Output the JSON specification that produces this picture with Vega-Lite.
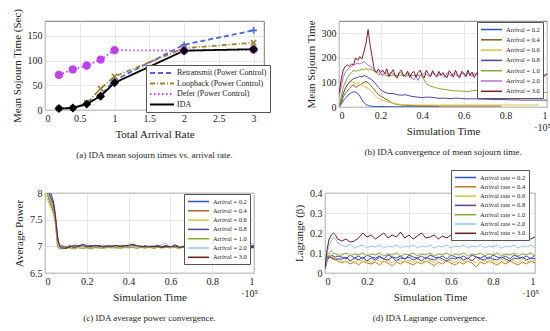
{
"$schema":"https://vega.github.io/schema/vega-lite/v6.json",
"padding":{"left":10,"top":8,"right":2,"bottom":0},
"background":"white",
"config":{"font":"Liberation Serif","view":{"stroke":"#555","strokeWidth":0.8},
 "axis":{"grid":true,"gridColor":"#dddddd","gridWidth":0.7,"domain":false,"ticks":false,"labelFontSize":10,"titleFontSize":11,"titleFontWeight":"normal","labelColor":"#222","titleColor":"#222","labelPadding":3,"titlePadding":5},
 "title":{"orient":"bottom","fontSize":9,"fontWeight":"normal","anchor":"middle","color":"#222","offset":12},
 "legend":{"labelColor":"#222"}},
"resolve":{"scale":{"color":"independent","strokeDash":"independent","shape":"independent","stroke":"independent","fill":"independent","x":"independent","y":"independent"},"legend":{"color":"independent","strokeDash":"independent"}},
"datasets":{
"a":[
{"x":0.2,"m":"Retransmit (Power Control)","n":"R","y":3},{"x":0.4,"m":"Retransmit (Power Control)","n":"R","y":4},{"x":0.6,"m":"Retransmit (Power Control)","n":"R","y":12},{"x":0.8,"m":"Retransmit (Power Control)","n":"R","y":30},{"x":1,"m":"Retransmit (Power Control)","n":"R","y":60},{"x":2,"m":"Retransmit (Power Control)","n":"R","y":132},{"x":3,"m":"Retransmit (Power Control)","n":"R","y":161},
{"x":0.2,"m":"Loopback (Power Control)","n":"L","y":3},{"x":0.4,"m":"Loopback (Power Control)","n":"L","y":4},{"x":0.6,"m":"Loopback (Power Control)","n":"L","y":14},{"x":0.8,"m":"Loopback (Power Control)","n":"L","y":43},{"x":1,"m":"Loopback (Power Control)","n":"L","y":68},{"x":2,"m":"Loopback (Power Control)","n":"L","y":125},{"x":3,"m":"Loopback (Power Control)","n":"L","y":136},
{"x":0.2,"m":"Defer (Power Control)","n":"D","y":71},{"x":0.4,"m":"Defer (Power Control)","n":"D","y":82},{"x":0.6,"m":"Defer (Power Control)","n":"D","y":90},{"x":0.8,"m":"Defer (Power Control)","n":"D","y":102},{"x":1,"m":"Defer (Power Control)","n":"D","y":121},{"x":2,"m":"Defer (Power Control)","n":"D","y":120},{"x":3,"m":"Defer (Power Control)","n":"D","y":122},
{"x":0.2,"m":"IDA","n":"I","y":3},{"x":0.4,"m":"IDA","n":"I","y":4},{"x":0.6,"m":"IDA","n":"I","y":12},{"x":0.8,"m":"IDA","n":"I","y":28},{"x":1,"m":"IDA","n":"I","y":55},{"x":2,"m":"IDA","n":"I","y":120},{"x":3,"m":"IDA","n":"I","y":123}
],
"b":[
{"t":0,"a02":0,"a04":0,"a06":0,"a08":0,"a10":0,"a20":40,"a30":55},
{"t":0.01,"a02":10,"a04":15,"a06":20,"a08":25,"a10":40,"a20":80,"a30":110},
{"t":0.02,"a02":25,"a04":40,"a06":50,"a08":55,"a10":80,"a20":120,"a30":150},
{"t":0.03,"a02":35,"a04":55,"a06":75,"a08":75,"a10":100,"a20":140,"a30":165},
{"t":0.04,"a02":45,"a04":65,"a06":90,"a08":90,"a10":120,"a20":150,"a30":172},
{"t":0.05,"a02":52,"a04":75,"a06":100,"a08":100,"a10":130,"a20":160,"a30":165},
{"t":0.06,"a02":58,"a04":85,"a06":105,"a08":110,"a10":140,"a20":165,"a30":175},
{"t":0.07,"a02":62,"a04":90,"a06":100,"a08":115,"a10":150,"a20":170,"a30":172},
{"t":0.08,"a02":60,"a04":80,"a06":95,"a08":118,"a10":145,"a20":175,"a30":200},
{"t":0.09,"a02":55,"a04":85,"a06":98,"a08":120,"a10":150,"a20":178,"a30":190},
{"t":0.1,"a02":45,"a04":90,"a06":92,"a08":125,"a10":148,"a20":175,"a30":205},
{"t":0.11,"a02":30,"a04":95,"a06":88,"a08":122,"a10":155,"a20":180,"a30":195},
{"t":0.12,"a02":18,"a04":100,"a06":85,"a08":128,"a10":150,"a20":185,"a30":225},
{"t":0.13,"a02":10,"a04":105,"a06":80,"a08":125,"a10":158,"a20":178,"a30":260},
{"t":0.14,"a02":6,"a04":98,"a06":75,"a08":120,"a10":150,"a20":170,"a30":315},
{"t":0.15,"a02":4,"a04":90,"a06":70,"a08":115,"a10":155,"a20":165,"a30":250},
{"t":0.16,"a02":3,"a04":80,"a06":60,"a08":110,"a10":150,"a20":160,"a30":200},
{"t":0.17,"a02":2,"a04":70,"a06":50,"a08":100,"a10":145,"a20":150,"a30":150},
{"t":0.18,"a02":2,"a04":60,"a06":40,"a08":90,"a10":140,"a20":145,"a30":140},
{"t":0.19,"a02":2,"a04":50,"a06":35,"a08":80,"a10":130,"a20":140,"a30":155},
{"t":0.2,"a02":2,"a04":45,"a06":30,"a08":70,"a10":135,"a20":135,"a30":140},
{"t":0.21,"a20":128,"a30":150},
{"t":0.22,"a02":2,"a04":35,"a06":25,"a08":60,"a10":130,"a20":140,"a30":135},
{"t":0.23,"a20":135,"a30":155},
{"t":0.24,"a02":1,"a04":25,"a06":20,"a08":55,"a10":125,"a20":130,"a30":125},
{"t":0.25,"a20":142,"a30":138},
{"t":0.26,"a02":1,"a04":15,"a06":15,"a08":55,"a10":130,"a20":135,"a30":152},
{"t":0.27,"a20":125,"a30":128},
{"t":0.28,"a02":1,"a04":10,"a06":12,"a08":50,"a10":128,"a20":128,"a30":118},
{"t":0.29,"a20":138,"a30":142},
{"t":0.3,"a02":1,"a04":8,"a06":10,"a08":48,"a10":130,"a20":140,"a30":150},
{"t":0.31,"a20":130,"a30":125},
{"t":0.32,"a02":1,"a04":7,"a06":9,"a08":50,"a10":125,"a20":125,"a30":132},
{"t":0.33,"a20":140,"a30":146},
{"t":0.34,"a02":1,"a04":6,"a06":9,"a08":45,"a10":130,"a20":135,"a30":120},
{"t":0.35,"a20":118,"a30":138},
{"t":0.36,"a02":1,"a04":6,"a06":8,"a08":42,"a10":128,"a20":110,"a30":145},
{"t":0.37,"a20":125,"a30":122},
{"t":0.38,"a02":1,"a04":5,"a06":8,"a08":40,"a10":130,"a20":108,"a30":140},
{"t":0.39,"a20":130,"a30":150},
{"t":0.4,"a02":1,"a04":5,"a06":8,"a08":38,"a10":125,"a20":130,"a30":128},
{"t":0.41,"a20":138,"a30":118},
{"t":0.42,"a02":1,"a04":5,"a06":8,"a08":40,"a10":95,"a20":135,"a30":150},
{"t":0.43,"a20":125,"a30":135},
{"t":0.44,"a02":1,"a04":5,"a06":8,"a08":40,"a10":85,"a20":125,"a30":125},
{"t":0.45,"a20":140,"a30":148},
{"t":0.46,"a02":1,"a04":4,"a06":8,"a08":38,"a10":80,"a20":138,"a30":130},
{"t":0.47,"a20":128,"a30":122},
{"t":0.48,"a02":1,"a04":4,"a06":8,"a08":35,"a10":75,"a20":130,"a30":145},
{"t":0.49,"a20":135,"a30":128},
{"t":0.5,"a04":4,"a06":8,"a08":36,"a10":72,"a20":128,"a30":140},
{"t":0.51,"a20":120,"a30":125},
{"t":0.52,"a04":4,"a06":8,"a08":35,"a10":70,"a20":140,"a30":120},
{"t":0.53,"a20":132,"a30":148},
{"t":0.54,"a04":4,"a06":8,"a08":34,"a10":68,"a20":125,"a30":135},
{"t":0.55,"a20":138,"a30":122},
{"t":0.56,"a04":4,"a06":8,"a08":36,"a10":66,"a20":135,"a30":150},
{"t":0.57,"a20":125,"a30":130},
{"t":0.58,"a04":4,"a06":8,"a08":35,"a10":65,"a20":128,"a30":118},
{"t":0.59,"a20":140,"a30":145},
{"t":0.6,"a04":4,"a06":8,"a08":34,"a10":64,"a20":130,"a30":138},
{"t":0.61,"a20":122,"a30":125},
{"t":0.62,"a04":4,"a06":8,"a08":33,"a10":62,"a20":140,"a30":150},
{"t":0.63,"a20":130,"a30":128},
{"t":0.64,"a04":4,"a06":8,"a08":34,"a10":66,"a20":125,"a30":142},
{"t":0.65,"a20":138,"a30":120},
{"t":0.66,"a04":4,"a06":8,"a08":33,"a10":68,"a20":132,"a30":135},
{"t":0.67,"a20":125,"a30":148},
{"t":0.68,"a04":4,"a06":8,"a08":32,"a10":65,"a20":128,"a30":120},
{"t":0.69,"a20":140,"a30":132},
{"t":0.7,"a04":4,"a06":8,"a08":32,"a10":70,"a20":138,"a30":145},
{"t":0.71,"a20":122,"a30":125},
{"t":0.72,"a04":4,"a06":8,"a08":31,"a10":72,"a20":130,"a30":138},
{"t":0.73,"a20":136,"a30":150},
{"t":0.74,"a04":4,"a06":8,"a08":31,"a10":68,"a20":125,"a30":122},
{"t":0.75,"a20":140,"a30":135},
{"t":0.76,"a04":4,"a06":8,"a08":30,"a10":66,"a20":135,"a30":128},
{"t":0.77,"a20":124,"a30":146},
{"t":0.78,"a04":4,"a06":8,"a08":30,"a10":70,"a20":128,"a30":120},
{"t":0.79,"a20":138,"a30":138},
{"t":0.8,"a06":8,"a08":30,"a10":68,"a20":130,"a30":130},
{"t":0.81,"a20":122,"a30":118},
{"t":0.82,"a06":8,"a08":29,"a10":65,"a20":138,"a30":142},
{"t":0.83,"a20":128,"a30":126},
{"t":0.84,"a06":8,"a08":29,"a10":67,"a20":125,"a30":138},
{"t":0.85,"a20":140,"a30":150},
{"t":0.86,"a06":8,"a08":29,"a10":64,"a20":132,"a30":122},
{"t":0.87,"a20":126,"a30":135},
{"t":0.88,"a06":8,"a08":28,"a10":66,"a20":128,"a30":142},
{"t":0.89,"a20":136,"a30":120},
{"t":0.9,"a06":8,"a08":28,"a10":62,"a20":135,"a30":132},
{"t":0.91,"a20":124,"a30":145},
{"t":0.92,"a06":8,"a08":28,"a10":60,"a20":125,"a30":125},
{"t":0.93,"a20":138,"a30":138},
{"t":0.94,"a06":8,"a08":28,"a10":58,"a20":132,"a30":120},
{"t":0.95,"a20":126,"a30":146},
{"t":0.96,"a06":8,"a08":28,"a10":57,"a20":128,"a30":132},
{"t":0.97,"a20":140,"a30":125},
{"t":0.98,"a08":28,"a10":58,"a20":130,"a30":140},
{"t":0.99,"a20":124,"a30":128},
{"t":1,"a08":28,"a10":60,"a20":135,"a30":135}
],
"c":[
{"t":0,"a02":8.3,"a04":8.2,"a06":8.0,"a08":8.4,"a10":8.1,"a20":8.2,"a30":8.3},
{"t":0.02,"a02":7.95,"a04":7.85,"a06":7.8,"a08":8.1,"a10":7.9,"a20":7.95,"a30":8.0},
{"t":0.04,"a02":7.75,"a04":7.65,"a06":7.6,"a08":7.85,"a10":7.7,"a20":7.75,"a30":7.8},
{"t":0.05,"a02":7.5,"a04":7.45,"a06":7.4,"a08":7.6,"a10":7.45,"a20":7.5,"a30":7.55},
{"t":0.06,"a02":7.15,"a04":7.1,"a06":7.0,"a08":7.2,"a10":6.98,"a20":7.1,"a30":7.15},
{"t":0.07,"a02":6.98,"a04":7.0,"a06":6.95,"a08":7.0,"a10":6.95,"a20":6.97,"a30":7.0},
{"t":0.08,"a02":7.0,"a04":6.98,"a06":6.96,"a08":7.02,"a10":6.95,"a20":7.0,"a30":6.97},
{"t":0.1,"a02":6.96,"a04":7.0,"a06":6.98,"a08":6.97,"a10":7.0,"a20":6.95,"a30":6.96},
{"t":0.12,"a02":7.01,"a04":6.98,"a06":6.96,"a08":7.02,"a10":6.97,"a20":7.0,"a30":6.99},
{"t":0.14,"a02":6.98,"a04":7.02,"a06":6.99,"a08":6.97,"a10":6.95,"a20":7.03,"a30":7.01},
{"t":0.16,"a02":7.02,"a04":6.99,"a06":6.97,"a08":7.0,"a10":6.98,"a20":6.97,"a30":7.0},
{"t":0.18,"a02":6.99,"a04":7.01,"a06":6.96,"a08":7.03,"a10":6.96,"a20":7.0,"a30":7.04},
{"t":0.2,"a02":7.0,"a04":6.98,"a06":6.99,"a08":6.98,"a10":6.97,"a20":7.02,"a30":7.01},
{"t":0.22,"a02":7.02,"a04":7.0,"a06":6.97,"a08":7.01,"a10":6.95,"a20":6.98,"a30":6.99},
{"t":0.24,"a02":6.98,"a04":7.01,"a06":6.98,"a08":6.99,"a10":6.98,"a20":7.01,"a30":7.02},
{"t":0.26,"a02":7.01,"a04":6.98,"a06":6.96,"a08":7.02,"a10":6.97,"a20":6.99,"a30":7.0},
{"t":0.28,"a02":6.99,"a04":7.02,"a06":6.99,"a08":6.98,"a10":6.96,"a20":7.0,"a30":6.99},
{"t":0.3,"a02":7.0,"a04":6.99,"a06":6.97,"a08":7.01,"a10":6.98,"a20":7.02,"a30":7.01},
{"t":0.32,"a02":7.01,"a04":7.0,"a06":6.98,"a08":6.99,"a10":6.97,"a20":6.98,"a30":7.0},
{"t":0.34,"a02":6.98,"a04":7.01,"a06":6.96,"a08":7.0,"a10":6.98,"a20":7.0,"a30":7.02},
{"t":0.36,"a02":7.0,"a04":6.99,"a06":6.98,"a08":7.02,"a10":6.96,"a20":7.01,"a30":6.99},
{"t":0.38,"a02":7.02,"a04":7.0,"a06":6.97,"a08":6.99,"a10":6.98,"a20":6.99,"a30":7.01},
{"t":0.4,"a02":6.99,"a04":7.01,"a06":6.99,"a08":7.01,"a10":6.97,"a20":7.02,"a30":7.02},
{"t":0.42,"a02":7.03,"a04":7.02,"a06":6.98,"a08":7.03,"a10":6.98,"a20":7.0,"a30":7.04},
{"t":0.44,"a02":7.0,"a04":6.99,"a06":6.97,"a08":7.0,"a10":6.96,"a20":6.99,"a30":7.01},
{"t":0.46,"a02":6.99,"a04":7.01,"a06":6.98,"a08":6.98,"a10":6.98,"a20":7.01,"a30":7.0},
{"t":0.48,"a02":7.01,"a04":6.98,"a06":6.96,"a08":7.01,"a10":6.97,"a20":6.98,"a30":6.99},
{"t":0.5,"a02":6.98,"a04":7.0,"a06":6.99,"a08":6.99,"a10":6.98,"a20":7.0,"a30":7.0},
{"t":0.52,"a02":7.0,"a04":7.01,"a06":6.97,"a08":7.0,"a10":6.96,"a20":7.02,"a30":6.99},
{"t":0.54,"a02":7.02,"a04":6.99,"a06":6.98,"a08":7.02,"a10":6.98,"a20":6.99,"a30":7.0},
{"t":0.56,"a02":6.99,"a04":7.0,"a06":6.97,"a08":6.99,"a10":6.97,"a20":7.04,"a30":6.98},
{"t":0.58,"a02":7.01,"a04":7.01,"a06":6.98,"a08":7.01,"a10":6.98,"a20":7.06,"a30":7.0},
{"t":0.6,"a02":6.98,"a04":6.99,"a06":6.99,"a08":6.98,"a10":6.97,"a20":6.97,"a30":6.99},
{"t":0.62,"a02":7.0,"a04":7.0,"a06":6.98,"a08":7.03,"a10":6.98,"a20":7.0,"a30":7.01},
{"t":0.64,"a02":6.99,"a04":6.98,"a06":6.97,"a08":7.0,"a10":6.96,"a20":6.99,"a30":6.98},
{"t":0.66,"a02":7.0,"a04":7.0,"a06":6.98,"a08":6.99,"a10":6.98,"a20":7.01,"a30":6.99},
{"t":0.68,"a02":6.98,"a04":6.99,"a06":6.99,"a08":7.01,"a10":6.97,"a20":6.98,"a30":7.0},
{"t":0.7,"a02":6.99,"a04":7.0,"a06":6.98,"a08":6.98,"a10":6.98,"a20":7.0,"a30":6.98},
{"t":0.72,"a02":7.0,"a04":6.98,"a06":6.97,"a08":7.0,"a10":6.97,"a20":6.99,"a30":6.99},
{"t":0.74,"a02":6.98,"a04":6.99,"a06":6.98,"a08":6.99,"a10":6.98,"a20":7.0,"a30":6.98},
{"t":0.76,"a02":6.99,"a04":7.0,"a06":6.97,"a08":7.01,"a10":6.97,"a20":6.98,"a30":6.99},
{"t":0.78,"a02":7.0,"a04":6.98,"a06":6.98,"a08":6.98,"a10":6.98,"a20":7.0,"a30":6.98},
{"t":0.8,"a02":6.98,"a04":6.99,"a06":6.97,"a08":7.0,"a10":6.97,"a20":6.99,"a30":6.99},
{"t":0.82,"a02":6.99,"a04":6.98,"a06":6.98,"a08":6.99,"a10":6.98,"a20":7.0,"a30":6.98},
{"t":0.84,"a02":6.98,"a04":6.99,"a06":6.97,"a08":7.0,"a10":6.97,"a20":6.98,"a30":6.99},
{"t":0.86,"a02":6.99,"a04":6.98,"a06":6.98,"a08":6.98,"a10":6.98,"a20":7.0,"a30":6.98},
{"t":0.88,"a02":6.98,"a04":6.99,"a06":6.97,"a08":6.99,"a10":6.97,"a20":6.99,"a30":6.99},
{"t":0.9,"a02":6.99,"a04":6.98,"a06":6.98,"a08":7.0,"a10":6.98,"a20":6.98,"a30":6.98},
{"t":0.92,"a02":6.98,"a04":6.99,"a06":6.97,"a08":6.98,"a10":6.97,"a20":7.0,"a30":6.99},
{"t":0.94,"a02":6.99,"a04":6.98,"a06":6.98,"a08":6.99,"a10":6.98,"a20":6.99,"a30":6.98},
{"t":0.96,"a02":6.98,"a04":6.99,"a06":6.97,"a08":7.0,"a10":6.97,"a20":6.98,"a30":6.95},
{"t":0.98,"a02":7.0,"a04":6.98,"a06":6.98,"a08":6.99,"a10":6.98,"a20":7.05,"a30":6.96},
{"t":1,"a02":7.02,"a04":7.0,"a06":6.97,"a08":7.01,"a10":6.97,"a20":7.06,"a30":6.99}
],
"d":[
{"t":0,"a02":0.02,"a04":0.02,"a06":0.02,"a08":0.02,"a10":0.02,"a20":0.02,"a30":0.02},
{"t":0.01,"a02":0.06,"a04":0.08,"a06":0.07,"a08":0.08,"a10":0.09,"a20":0.1,"a30":0.12},
{"t":0.02,"a02":0.08,"a04":0.09,"a06":0.09,"a08":0.08,"a10":0.1,"a20":0.14,"a30":0.17},
{"t":0.03,"a02":0.09,"a04":0.08,"a06":0.085,"a08":0.075,"a10":0.11,"a20":0.16,"a30":0.19},
{"t":0.04,"a02":0.085,"a04":0.075,"a06":0.08,"a08":0.07,"a10":0.1,"a20":0.18,"a30":0.2},
{"t":0.05,"a02":0.08,"a04":0.07,"a06":0.075,"a08":0.065,"a10":0.095,"a20":0.17,"a30":0.19},
{"t":0.06,"a02":0.085,"a04":0.06,"a06":0.07,"a08":0.07,"a10":0.09,"a20":0.15,"a30":0.17},
{"t":0.08,"a02":0.08,"a04":0.05,"a06":0.06,"a08":0.07,"a10":0.09,"a20":0.14,"a30":0.16},
{"t":0.1,"a02":0.07,"a04":0.06,"a06":0.055,"a08":0.08,"a10":0.1,"a20":0.13,"a30":0.17},
{"t":0.12,"a02":0.09,"a04":0.045,"a06":0.065,"a08":0.06,"a10":0.085,"a20":0.145,"a30":0.155},
{"t":0.14,"a02":0.075,"a04":0.055,"a06":0.05,"a08":0.075,"a10":0.095,"a20":0.125,"a30":0.16},
{"t":0.16,"a02":0.085,"a04":0.04,"a06":0.07,"a08":0.065,"a10":0.09,"a20":0.135,"a30":0.175},
{"t":0.18,"a02":0.07,"a04":0.06,"a06":0.055,"a08":0.08,"a10":0.1,"a20":0.14,"a30":0.2},
{"t":0.2,"a02":0.09,"a04":0.05,"a06":0.065,"a08":0.06,"a10":0.085,"a20":0.125,"a30":0.18},
{"t":0.22,"a02":0.08,"a04":0.045,"a06":0.05,"a08":0.075,"a10":0.095,"a20":0.135,"a30":0.19},
{"t":0.24,"a02":0.075,"a04":0.055,"a06":0.07,"a08":0.065,"a10":0.09,"a20":0.13,"a30":0.17},
{"t":0.26,"a02":0.085,"a04":0.04,"a06":0.06,"a08":0.08,"a10":0.1,"a20":0.14,"a30":0.185},
{"t":0.28,"a02":0.07,"a04":0.06,"a06":0.055,"a08":0.07,"a10":0.085,"a20":0.125,"a30":0.2},
{"t":0.3,"a02":0.09,"a04":0.05,"a06":0.065,"a08":0.065,"a10":0.095,"a20":0.135,"a30":0.175},
{"t":0.32,"a02":0.08,"a04":0.035,"a06":0.05,"a08":0.08,"a10":0.09,"a20":0.13,"a30":0.19},
{"t":0.34,"a02":0.075,"a04":0.055,"a06":0.07,"a08":0.06,"a10":0.1,"a20":0.14,"a30":0.18},
{"t":0.36,"a02":0.085,"a04":0.045,"a06":0.06,"a08":0.075,"a10":0.085,"a20":0.125,"a30":0.205},
{"t":0.38,"a02":0.07,"a04":0.06,"a06":0.055,"a08":0.07,"a10":0.095,"a20":0.135,"a30":0.175},
{"t":0.4,"a02":0.09,"a04":0.05,"a06":0.065,"a08":0.08,"a10":0.09,"a20":0.13,"a30":0.19},
{"t":0.42,"a02":0.08,"a04":0.04,"a06":0.05,"a08":0.065,"a10":0.1,"a20":0.14,"a30":0.17},
{"t":0.44,"a02":0.075,"a04":0.055,"a06":0.07,"a08":0.075,"a10":0.085,"a20":0.125,"a30":0.185},
{"t":0.46,"a02":0.085,"a04":0.045,"a06":0.06,"a08":0.06,"a10":0.095,"a20":0.135,"a30":0.2},
{"t":0.48,"a02":0.07,"a04":0.06,"a06":0.055,"a08":0.08,"a10":0.09,"a20":0.13,"a30":0.175},
{"t":0.5,"a02":0.09,"a04":0.05,"a06":0.065,"a08":0.07,"a10":0.1,"a20":0.14,"a30":0.18},
{"t":0.52,"a02":0.08,"a04":0.035,"a06":0.05,"a08":0.065,"a10":0.085,"a20":0.125,"a30":0.19},
{"t":0.54,"a02":0.075,"a04":0.055,"a06":0.07,"a08":0.08,"a10":0.095,"a20":0.135,"a30":0.17},
{"t":0.56,"a02":0.085,"a04":0.045,"a06":0.06,"a08":0.07,"a10":0.09,"a20":0.13,"a30":0.185},
{"t":0.58,"a02":0.07,"a04":0.06,"a06":0.055,"a08":0.06,"a10":0.1,"a20":0.14,"a30":0.175},
{"t":0.6,"a02":0.09,"a04":0.05,"a06":0.065,"a08":0.075,"a10":0.085,"a20":0.125,"a30":0.19},
{"t":0.62,"a02":0.08,"a04":0.04,"a06":0.05,"a08":0.07,"a10":0.095,"a20":0.135,"a30":0.18},
{"t":0.64,"a02":0.075,"a04":0.055,"a06":0.07,"a08":0.08,"a10":0.09,"a20":0.13,"a30":0.2},
{"t":0.66,"a02":0.085,"a04":0.045,"a06":0.06,"a08":0.065,"a10":0.1,"a20":0.14,"a30":0.17},
{"t":0.68,"a02":0.07,"a04":0.06,"a06":0.055,"a08":0.075,"a10":0.085,"a20":0.125,"a30":0.185},
{"t":0.7,"a02":0.09,"a04":0.05,"a06":0.065,"a08":0.06,"a10":0.095,"a20":0.135,"a30":0.175},
{"t":0.72,"a02":0.08,"a04":0.03,"a06":0.05,"a08":0.08,"a10":0.09,"a20":0.13,"a30":0.19},
{"t":0.74,"a02":0.075,"a04":0.055,"a06":0.07,"a08":0.07,"a10":0.1,"a20":0.14,"a30":0.18},
{"t":0.76,"a02":0.085,"a04":0.045,"a06":0.06,"a08":0.065,"a10":0.085,"a20":0.125,"a30":0.17},
{"t":0.78,"a02":0.07,"a04":0.06,"a06":0.055,"a08":0.08,"a10":0.095,"a20":0.135,"a30":0.19},
{"t":0.8,"a02":0.09,"a04":0.05,"a06":0.065,"a08":0.07,"a10":0.09,"a20":0.13,"a30":0.175},
{"t":0.82,"a02":0.08,"a04":0.04,"a06":0.05,"a08":0.065,"a10":0.1,"a20":0.14,"a30":0.185},
{"t":0.84,"a02":0.075,"a04":0.055,"a06":0.07,"a08":0.08,"a10":0.085,"a20":0.125,"a30":0.18},
{"t":0.86,"a02":0.085,"a04":0.045,"a06":0.06,"a08":0.07,"a10":0.095,"a20":0.135,"a30":0.195},
{"t":0.88,"a02":0.07,"a04":0.06,"a06":0.055,"a08":0.06,"a10":0.09,"a20":0.13,"a30":0.17},
{"t":0.9,"a02":0.09,"a04":0.05,"a06":0.065,"a08":0.075,"a10":0.1,"a20":0.14,"a30":0.185},
{"t":0.92,"a02":0.08,"a04":0.04,"a06":0.05,"a08":0.07,"a10":0.085,"a20":0.125,"a30":0.175},
{"t":0.94,"a02":0.075,"a04":0.055,"a06":0.07,"a08":0.08,"a10":0.095,"a20":0.135,"a30":0.19},
{"t":0.96,"a02":0.085,"a04":0.045,"a06":0.06,"a08":0.065,"a10":0.09,"a20":0.13,"a30":0.18},
{"t":0.98,"a02":0.07,"a04":0.06,"a06":0.055,"a08":0.075,"a10":0.1,"a20":0.14,"a30":0.17},
{"t":1,"a02":0.09,"a04":0.05,"a06":0.065,"a08":0.07,"a10":0.085,"a20":0.125,"a30":0.18}
]
},
"vconcat":[
{"resolve":{"scale":{"color":"independent","strokeDash":"independent","shape":"independent","stroke":"independent","fill":"independent","x":"independent","y":"independent"},"legend":{"color":"independent","strokeDash":"independent"}},
 "hconcat":[
{"width":219,"height":89,
 "data":{"name":"a"},
 "title":{"text":"(a) IDA mean sojourn times vs. arrival rate."},
 "encoding":{
  "x":{"field":"x","type":"quantitative","scale":{"domain":[0,3.15],"nice":false},"axis":{"values":[0,0.5,1,1.5,2,2.5,3],"format":".1~f","title":"Total Arrival Rate"}},
  "y":{"field":"y","type":"quantitative","scale":{"domain":[0,180],"nice":false},"axis":{"values":[0,50,100,150],"title":"Mean Sojourn Time (Sec)"}}
 },
 "layer":[
  {"mark":{"type":"line","strokeWidth":1.8},
   "encoding":{
    "color":{"field":"m","type":"nominal","scale":{"domain":["Retransmit (Power Control)","Loopback (Power Control)","Defer (Power Control)","IDA"],"range":["#4a66e0","#a08032","#c040f0","#000000"]},
     "legend":{"title":null,"orient":"none","legendX":101,"legendY":44,"fillColor":"white","strokeColor":"#555","padding":3,"symbolType":"M-1,0L5,0","symbolSize":64,"symbolStrokeWidth":1.8,"labelOffset":18,"labelFontSize":8,"rowPadding":1.5}},
    "strokeDash":{"field":"m","type":"nominal","scale":{"domain":["Retransmit (Power Control)","Loopback (Power Control)","Defer (Power Control)","IDA"],"range":[[5,3],[5,2,1,2],[1.5,2.5],[1,0]]},
     "legend":{"title":null,"orient":"none","legendX":101,"legendY":44,"fillColor":"white","strokeColor":"#555","padding":3,"symbolType":"M-1,0L5,0","symbolSize":64,"symbolStrokeWidth":1.8,"labelOffset":18,"labelFontSize":8,"rowPadding":1.5}}}},
  {"mark":{"type":"point","filled":true,"size":45,"strokeWidth":1.6,"opacity":1},
   "encoding":{
    "shape":{"field":"n","type":"nominal","scale":{"domain":["R","L","D","I"],"range":["M-1,0L1,0M0,-1L0,1","M-0.8,-0.8L0.8,0.8M-0.8,0.8L0.8,-0.8","circle","diamond"]},"legend":null},
    "fill":{"field":"n","type":"nominal","scale":{"domain":["R","L","D","I"],"range":["#4a66e0","#a08032","#c040f0","#000000"]},"legend":null},
    "stroke":{"field":"n","type":"nominal","scale":{"domain":["R","L","D","I"],"range":["#4a66e0","#a08032","#c040f0","#000000"]},"legend":null}}}
 ]
},
{"width":208,"height":86,
 "data":{"name":"b"},
 "title":{"text":"(b) IDA convergence of mean sojourn time."},
 "layer":[
  {"transform":[{"fold":["a02","a04","a06","a08","a10","a20","a30"],"as":["s","y"]},{"filter":"isValid(datum.y)"}],
   "mark":{"type":"line","strokeWidth":1,"clip":true},
   "encoding":{
    "x":{"field":"t","type":"quantitative","scale":{"domain":[0,1],"nice":false},"axis":{"values":[0,0.2,0.4,0.6,0.8,1],"format":".1~f","title":"Simulation Time"}},
    "y":{"field":"y","type":"quantitative","scale":{"domain":[0,350],"nice":false},"axis":{"values":[0,100,200,300],"title":"Mean Sojourn Time"}},
    "color":{"field":"s","type":"nominal","scale":{"domain":["a02","a04","a06","a08","a10","a20","a30"],"range":["#2b4fc4","#8a5a1e","#d9c440","#5b3c9c","#86a832","#b070d0","#7a1e2e"]},
     "legend":{"title":null,"orient":"none","legendX":138,"legendY":1,"fillColor":"white","strokeColor":"#555","padding":3,"symbolType":"M-1,0L5,0","symbolSize":49,"symbolStrokeWidth":1.5,"labelOffset":17,"labelFontSize":6.5,"rowPadding":2.3,"labelExpr":"'Arrival = ' + slice(datum.label,1,2) + '.' + slice(datum.label,2)"}}
   }},
  {"data":{"values":[{}]},"mark":{"type":"text","align":"right","baseline":"top","dy":16,"dx":4,"fontSize":10,"color":"#222"},
   "encoding":{
    "x":{"datum":1,"type":"quantitative","axis":{"values":[0,0.2,0.4,0.6,0.8,1],"format":".1~f","title":"Simulation Time"}},
    "y":{"datum":0,"type":"quantitative","axis":{"values":[0,100,200,300],"title":"Mean Sojourn Time"}},
    "text":{"value":"·10⁵"}}}
 ]
}
],"spacing":33},
{"resolve":{"scale":{"color":"independent","x":"independent","y":"independent"},"legend":{"color":"independent"}},
 "hconcat":[
{"width":209,"height":80,
 "data":{"name":"c"},
 "title":{"text":"(c) IDA average power convergence."},
 "layer":[
  {"transform":[{"fold":["a02","a04","a06","a08","a10","a20","a30"],"as":["s","y"]},{"filter":"isValid(datum.y)"}],
   "mark":{"type":"line","strokeWidth":1,"clip":true},
   "encoding":{
    "x":{"field":"t","type":"quantitative","scale":{"domain":[0,1],"nice":false},"axis":{"values":[0,0.2,0.4,0.6,0.8,1],"format":".1~f","title":"Simulation Time"}},
    "y":{"field":"y","type":"quantitative","scale":{"domain":[6.5,8],"nice":false},"axis":{"values":[6.5,7,7.5,8],"format":".1~f","title":"Average Power"}},
    "color":{"field":"s","type":"nominal","scale":{"domain":["a02","a04","a06","a08","a10","a20","a30"],"range":["#2b4fc4","#a0662a","#d9c440","#5b3c9c","#86a832","#8cc4f0","#6a1a24"]},
     "legend":{"title":null,"orient":"none","legendX":139,"legendY":1,"fillColor":"white","strokeColor":"#555","padding":3,"symbolType":"M-1,0L5,0","symbolSize":49,"symbolStrokeWidth":1.5,"labelOffset":17,"labelFontSize":6.5,"rowPadding":1.3,"labelExpr":"'Arrival = ' + slice(datum.label,1,2) + '.' + slice(datum.label,2)"}}
   }},
  {"data":{"values":[{}]},"mark":{"type":"text","align":"right","baseline":"top","dy":16,"dx":4,"fontSize":10,"color":"#222"},
   "encoding":{
    "x":{"datum":1,"type":"quantitative","axis":{"values":[0,0.2,0.4,0.6,0.8,1],"format":".1~f","title":"Simulation Time"}},
    "y":{"datum":6.5,"type":"quantitative","axis":{"values":[6.5,7,7.5,8],"format":".1~f","title":"Average Power"}},
    "text":{"value":"·10⁵"}}}
 ]
},
{"width":210,"height":80,
 "data":{"name":"d"},
 "title":{"text":"(d) IDA Lagrange convergence."},
 "layer":[
  {"transform":[{"fold":["a02","a04","a06","a08","a10","a20","a30"],"as":["s","y"]},{"filter":"isValid(datum.y)"}],
   "mark":{"type":"line","strokeWidth":1,"clip":true},
   "encoding":{
    "x":{"field":"t","type":"quantitative","scale":{"domain":[0,1],"nice":false},"axis":{"values":[0,0.2,0.4,0.6,0.8,1],"format":".1~f","title":"Simulation Time"}},
    "y":{"field":"y","type":"quantitative","scale":{"domain":[0,0.4],"nice":false},"axis":{"values":[0,0.1,0.2,0.3,0.4],"format":".1~f","title":"Lagrange (β)"}},
    "color":{"field":"s","type":"nominal","scale":{"domain":["a02","a04","a06","a08","a10","a20","a30"],"range":["#2b4fc4","#c07820","#d9c440","#5b3c9c","#86a832","#8cc4f0","#6a1a24"]},
     "legend":{"title":null,"orient":"none","legendX":126,"legendY":-23,"fillColor":"white","strokeColor":"#555","padding":3,"symbolType":"M-1,0L5,0","symbolSize":49,"symbolStrokeWidth":1.5,"labelOffset":17,"labelFontSize":6.5,"rowPadding":1.3,"labelExpr":"'Arrival rate = ' + slice(datum.label,1,2) + '.' + slice(datum.label,2)"}}
   }},
  {"data":{"values":[{}]},"mark":{"type":"text","align":"right","baseline":"top","dy":16,"dx":4,"fontSize":10,"color":"#222"},
   "encoding":{
    "x":{"datum":1,"type":"quantitative","axis":{"values":[0,0.2,0.4,0.6,0.8,1],"format":".1~f","title":"Simulation Time"}},
    "y":{"datum":0,"type":"quantitative","axis":{"values":[0,0.1,0.2,0.3,0.4],"format":".1~f","title":"Lagrange (β)"}},
    "text":{"value":"·10⁵"}}}
 ]
}
],"spacing":34}
],
"spacing":8
}
